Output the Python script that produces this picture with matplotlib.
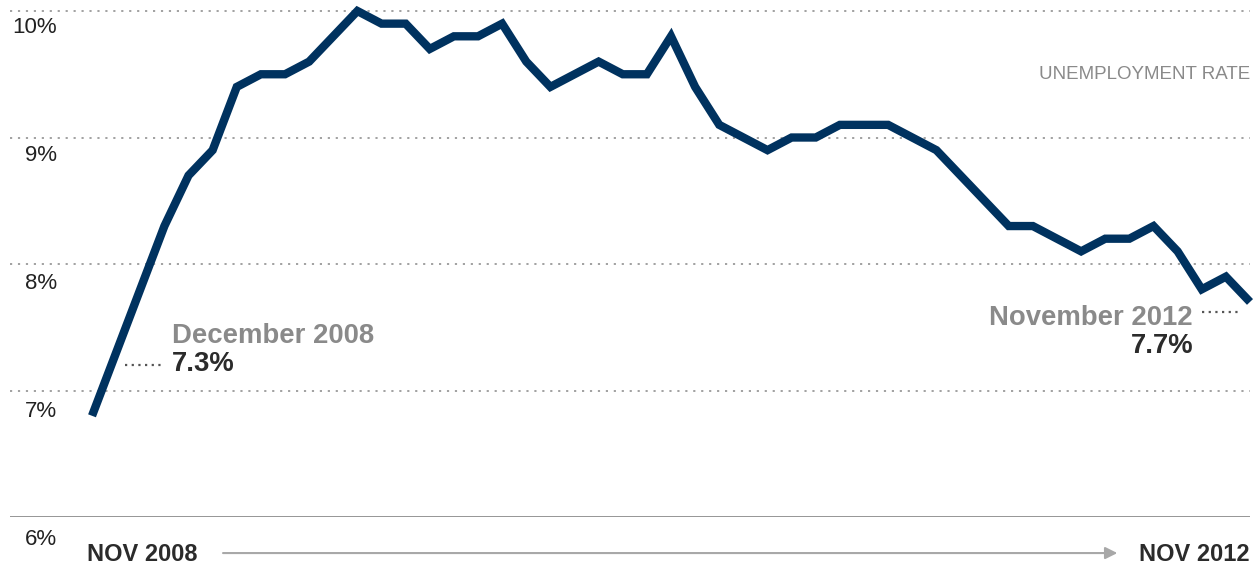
import matplotlib.pyplot as plt

# Unemployment rate, monthly, Nov 2008 - Nov 2012
rates = [6.8, 7.3, 7.8, 8.3, 8.7, 8.9, 9.4, 9.5, 9.5, 9.6, 9.8, 10.0,
         9.9, 9.9, 9.7, 9.8, 9.8, 9.9, 9.6, 9.4, 9.5, 9.6, 9.5, 9.5,
         9.8, 9.4, 9.1, 9.0, 8.9, 9.0, 9.0, 9.1, 9.1, 9.1, 9.0, 8.9,
         8.7, 8.5, 8.3, 8.3, 8.2, 8.1, 8.2, 8.2, 8.3, 8.1, 7.8, 7.9,
         7.7]
months = list(range(len(rates)))
grid_levels = [7, 8, 9, 10]
tick_levels = [6, 7, 8, 9, 10]
tick_labels = ['6%', '7%', '8%', '9%', '10%']

plt.rcParams['font.family'] = ['Liberation Sans', 'DejaVu Sans']

fig = plt.figure(figsize=(12.6, 5.67), dpi=100)
ax = fig.add_axes([10 / 1260, 50 / 567, 1240 / 1260, 517 / 567])
ax.set_xlim(-3.4, 48)
ax.set_ylim(6, 10.087)
ax.axis('off')

# gridlines
for lvl in grid_levels:
    ax.axhline(lvl, color='#9a9a9a', lw=1.3, ls=(0, (1.2, 3.2)), zorder=1)
ax.axhline(6, color='#8c8c8c', lw=2, zorder=1)

# y labels (sit just under their gridline)
for lvl, lab in zip(tick_levels, tick_labels):
    ax.text(-1.45, lvl - 0.13 - (10 - lvl) * 0.012, lab, ha='right',
            va='center', fontsize=16, color='#222222', clip_on=False)

# the series
ax.plot(months, rates, color='#00325f', lw=6, solid_joinstyle='miter',
        solid_capstyle='butt', zorder=3, clip_on=False)

ax.text(48, 9.5, 'UNEMPLOYMENT RATE', ha='right', va='center', fontsize=13.5,
        color='#8a8a8a')

# annotations
ax.plot([1.37, 2.94], [7.2, 7.2], color='#555555', lw=1.6,
        ls=(0, (1, 2)), zorder=2)
ax.text(3.32, 7.43, 'December 2008', ha='left', va='center', fontsize=19.8,
        fontweight='bold', color='#8a8a8a')
ax.text(3.32, 7.21, '7.3%', ha='left', va='center', fontsize=19.8,
        fontweight='bold', color='#2b2b2b')

ax.plot([46.0, 47.59], [7.62, 7.62], color='#555555', lw=1.6,
        ls=(0, (1, 2)), zorder=2)
ax.text(45.64, 7.57, 'November 2012', ha='right', va='center', fontsize=19.8,
        fontweight='bold', color='#8a8a8a')
ax.text(45.64, 7.35, '7.7%', ha='right', va='center', fontsize=19.8,
        fontweight='bold', color='#2b2b2b')

# x axis labels and arrow
ax.text(-0.2, 5.7, 'NOV 2008', ha='left', va='center', fontsize=17,
        fontweight='bold', color='#2b2b2b', clip_on=False)
ax.text(48, 5.7, 'NOV 2012', ha='right', va='center', fontsize=17,
        fontweight='bold', color='#2b2b2b', clip_on=False)
ax.annotate('', xy=(42.5, 5.715), xytext=(5.43, 5.715),
            arrowprops=dict(arrowstyle='-|>', color='#a8a8a8', lw=1.5,
                            mutation_scale=18, shrinkA=0, shrinkB=0),
            annotation_clip=False)

fig.savefig('out.png', dpi=100, facecolor='white')
